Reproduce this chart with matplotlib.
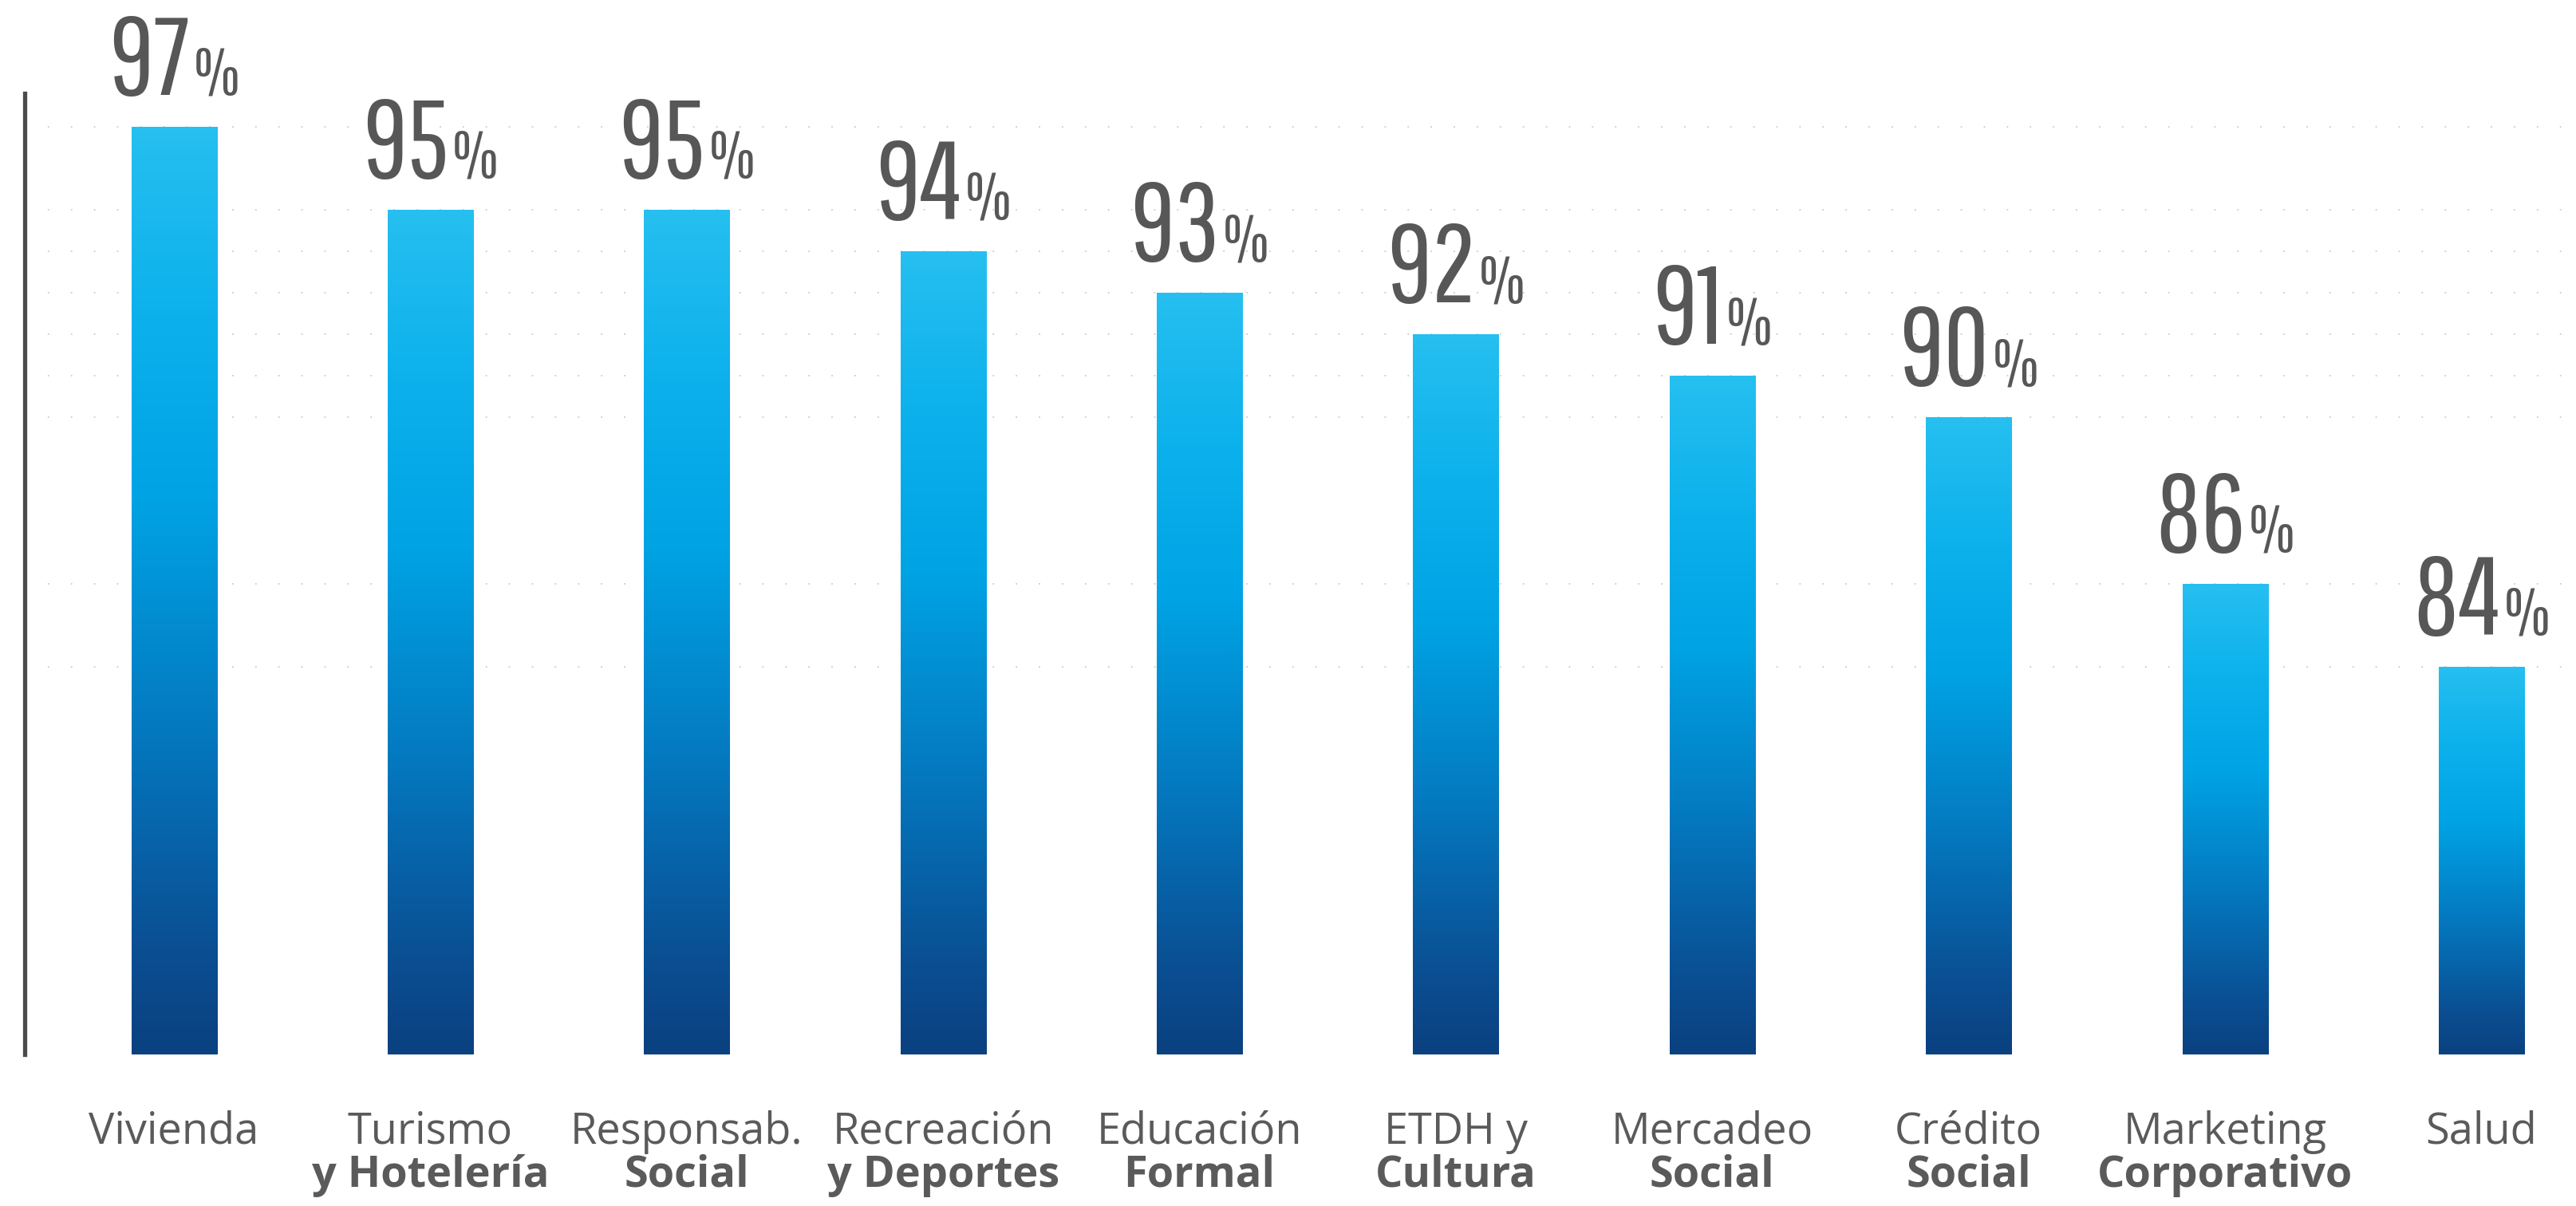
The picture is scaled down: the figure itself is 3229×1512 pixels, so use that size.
import matplotlib
matplotlib.use("Agg")
import matplotlib.pyplot as plt
import numpy as np
from matplotlib.colors import LinearSegmentedColormap
from matplotlib import font_manager

# ---- data ----
cat_line1 = ["Vivienda", "Turismo", "Responsab.", "Recreación", "Educación",
             "ETDH y", "Mercadeo", "Crédito", "Marketing", "Salud"]
cat_line2 = ["", "y Hotelería", "Social", "y Deportes", "Formal",
             "Cultura", "Social", "Social", "Corporativo", ""]
values = [97, 95, 95, 94, 93, 92, 91, 90, 86, 84]

# ---- fonts ----
names = {f.name for f in font_manager.fontManager.ttflist}
num_candidates = ["Pathway Gothic One", "Saira Extra Condensed", "Fira Sans Extra Condensed",
                  "Barlow Condensed", "DejaVu Sans"]
num_font = next(n for n in num_candidates if n in names or n == "DejaVu Sans")
lab_font = "Open Sans" if "Open Sans" in names else "DejaVu Sans"

W, H = 3230, 1512
fig = plt.figure(figsize=(W / 100, H / 100), dpi=100)
fig.patch.set_facecolor("white")
ax = fig.add_axes([31 / W, 190 / H, 1 - 31 / W, 1205 / H])

x = np.arange(len(values))
bw = 0.333
ymin, ymax = 74.67, 97.8

bars = ax.bar(x, values, width=bw, color="none", edgecolor="none", zorder=2)

cmap = LinearSegmentedColormap.from_list(
    "blu", [(0.0, "#0b4180"), (0.12, "#0a5094"), (0.35, "#0479c0"),
            (0.6, "#00a3e4"), (0.8, "#0cb1ec"), (1.0, "#26bff0")])
grad = np.linspace(0, 1, 256).reshape(-1, 1)
for b, v in zip(bars, values):
    x0 = b.get_x()
    im = ax.imshow(grad, cmap=cmap, origin="lower", aspect="auto",
                   extent=[x0, x0 + b.get_width(), ymin, v], zorder=2,
                   interpolation="bicubic")
    im.set_clip_path(b)

ax.set_xlim(-0.582, 9.372)
ax.set_ylim(ymin, ymax)

# faint dotted gridlines
ax.set_yticks(sorted(set(values)))
ax.yaxis.grid(True, linestyle=(0, (1, 15)), color="#cccccc", linewidth=1.3, zorder=0)
ax.set_axisbelow(True)
ax.tick_params(axis="both", length=0, labelleft=False, labelbottom=False)
for s in ["top", "right", "bottom"]:
    ax.spines[s].set_visible(False)
ax.spines["left"].set_color("#4a4a4a")
ax.spines["left"].set_linewidth(3.8)
ax.set_xticks([])

# value labels
txt_col = "#575757"
pairs = []
for xi, v in zip(x, values):
    t1 = ax.annotate(f"{v}", xy=(xi, v), xytext=(0, 40), textcoords="offset pixels",
                     ha="right", va="baseline", fontsize=100, family=[num_font, "DejaVu Sans"],
                     color=txt_col)
    t2 = ax.annotate("%", xy=(xi, v), xytext=(0, 40), textcoords="offset pixels",
                     ha="left", va="baseline", fontsize=60, family=[num_font, "DejaVu Sans"],
                     color=txt_col)
    pairs.append((t1, t2))

# category labels
for xi, l1, l2 in zip(x, cat_line1, cat_line2):
    ax.annotate(l1, xy=(xi, 0), xycoords=("data", "axes fraction"), xytext=(0, -112),
                textcoords="offset pixels", ha="center", va="baseline", fontsize=39,
                family=[lab_font, "DejaVu Sans"], color="#5a5a5a")
    if l2:
        ax.annotate(l2, xy=(xi, 0), xycoords=("data", "axes fraction"), xytext=(0, -166),
                    textcoords="offset pixels", ha="center", va="baseline", fontsize=39,
                    fontweight="bold", family=[lab_font, "DejaVu Sans"], color="#5a5a5a")

# center number+% group on each bar
fig.canvas.draw()
r = fig.canvas.get_renderer()
for t1, t2 in pairs:
    w1 = t1.get_window_extent(r).width
    w2 = t2.get_window_extent(r).width
    off = (w1 + w2) / 2 - w2
    t1.set_position((off - 2, 40))
    t2.set_position((off + 2, 40))

fig.savefig("out.png", dpi=100, facecolor="white")
